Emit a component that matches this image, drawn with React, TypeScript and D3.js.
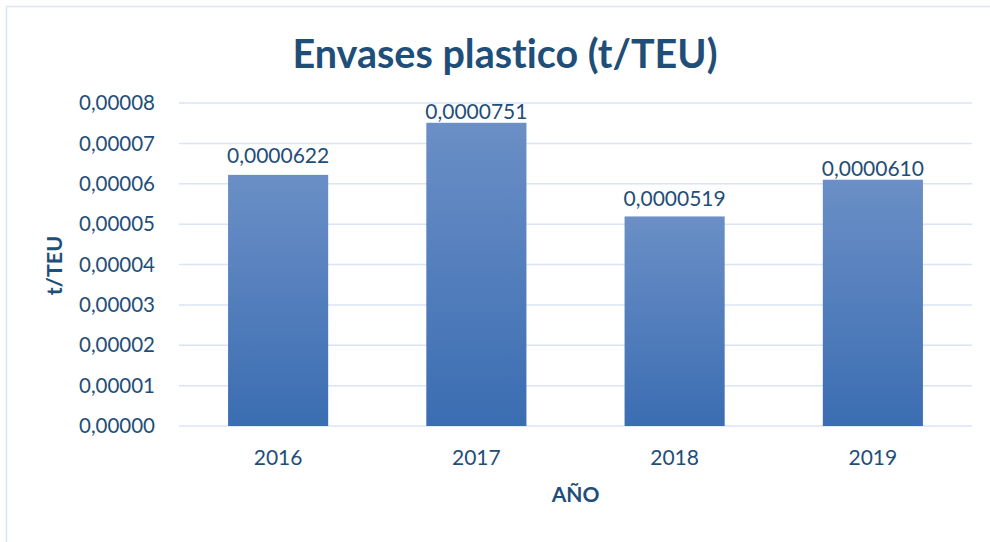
import * as d3 from "d3";
import { useEffect, useRef } from "react";

const years = ["2016", "2017", "2018", "2019"];
const values = [0.0000622, 0.0000751, 0.0000519, 0.000061];
const yTicks = [0, 0.00001, 0.00002, 0.00003, 0.00004, 0.00005, 0.00006, 0.00007, 0.00008];

const App = () => {
  const svgRef = useRef(null);

  useEffect(() => {
    const w = 990;
    const h = 542;
    const font = "Lato, 'Open Sans', sans-serif";
    const txt = "#1F4E79";
    const margin = { top: 103, right: 18, bottom: 116, left: 179 };
    // gap between bar top and its label (labels were nudged by hand in the original)
    const labelGap = [12, 4, 10.5, 4];

    const svg = d3
      .select(svgRef.current)
      .attr("width", w)
      .attr("height", h)
      .style("font-variant-ligatures", "none");
    svg.selectAll("*").remove();

    // gradient for the bars
    const grad = svg
      .append("defs")
      .append("linearGradient")
      .attr("id", "barGrad")
      .attr("x1", 0)
      .attr("y1", 0)
      .attr("x2", 0)
      .attr("y2", 1);
    grad.append("stop").attr("offset", "0%").attr("stop-color", "#6B8FC6");
    grad.append("stop").attr("offset", "100%").attr("stop-color", "#3B6DB2");

    // frame (only top and left edges visible)
    svg
      .append("path")
      .attr("d", `M6.5,${h} V6.5 H${w}`)
      .attr("fill", "none")
      .attr("stroke", "#DCE6F4")
      .attr("stroke-width", 1.5);

    const xScale = d3
      .scaleBand()
      .domain(years)
      .range([margin.left, w - margin.right])
      .paddingInner(0.495)
      .paddingOuter(0.2475);

    const yScale = d3
      .scaleLinear()
      .domain([0, 0.00008])
      .range([h - margin.bottom, margin.top]);

    const fmtTick = (v) => d3.format(".5f")(v).replace(".", ",");
    const fmtLabel = (v) => d3.format(".7f")(v).replace(".", ",");

    // gridlines
    svg
      .append("g")
      .selectAll("line")
      .data(yTicks)
      .enter()
      .append("line")
      .attr("x1", margin.left)
      .attr("x2", w - margin.right)
      .attr("y1", (d) => yScale(d))
      .attr("y2", (d) => yScale(d))
      .attr("stroke", "#D9E4F4")
      .attr("stroke-width", 1.5);

    // y tick labels
    svg
      .append("g")
      .selectAll("text")
      .data(yTicks)
      .enter()
      .append("text")
      .attr("x", 155)
      .attr("y", (d) => yScale(d))
      .attr("dy", "0.35em")
      .attr("text-anchor", "end")
      .attr("font-family", font)
      .attr("font-size", 20.5)
      .attr("fill", txt)
      .text((d) => fmtTick(d));

    // bars
    svg
      .append("g")
      .selectAll("rect")
      .data(values)
      .enter()
      .append("rect")
      .attr("x", (d, i) => xScale(years[i]))
      .attr("y", (d) => yScale(d))
      .attr("width", xScale.bandwidth())
      .attr("height", (d) => yScale(0) - yScale(d))
      .attr("fill", "url(#barGrad)");

    // value labels
    svg
      .append("g")
      .selectAll("text")
      .data(values)
      .enter()
      .append("text")
      .attr("x", (d, i) => xScale(years[i]) + xScale.bandwidth() / 2)
      .attr("y", (d, i) => yScale(d) - labelGap[i])
      .attr("text-anchor", "middle")
      .attr("font-family", font)
      .attr("font-size", 21)
      .attr("fill", txt)
      .text((d) => fmtLabel(d));

    // x labels
    svg
      .append("g")
      .selectAll("text")
      .data(years)
      .enter()
      .append("text")
      .attr("x", (d) => xScale(d) + xScale.bandwidth() / 2)
      .attr("y", 465)
      .attr("text-anchor", "middle")
      .attr("font-family", font)
      .attr("font-size", 21)
      .attr("fill", txt)
      .text((d) => d);

    // axis titles
    svg
      .append("text")
      .attr("x", (margin.left + w - margin.right) / 2)
      .attr("y", 502)
      .attr("text-anchor", "middle")
      .attr("font-family", font)
      .attr("font-weight", "bold")
      .attr("font-size", 21)
      .attr("fill", txt)
      .text("AÑO");

    svg
      .append("text")
      .attr("transform", `translate(62,${(margin.top + h - margin.bottom) / 2 + 1}) rotate(-90)`)
      .attr("text-anchor", "middle")
      .attr("font-family", font)
      .attr("font-weight", "bold")
      .attr("font-size", 21.5)
      .attr("fill", txt)
      .text("t/TEU");

    // title
    svg
      .append("text")
      .attr("x", 505)
      .attr("y", 68)
      .attr("text-anchor", "middle")
      .attr("font-family", font)
      .attr("font-weight", "bold")
      .attr("font-size", 39.5)
      .attr("fill", txt)
      .text("Envases plastico (t/TEU)");
  }, []);

  return (
    <div style={{ position: "absolute", left: 0, top: 0 }}>
      <svg ref={svgRef} style={{ display: "block" }}></svg>
    </div>
  );
};

export default App;
